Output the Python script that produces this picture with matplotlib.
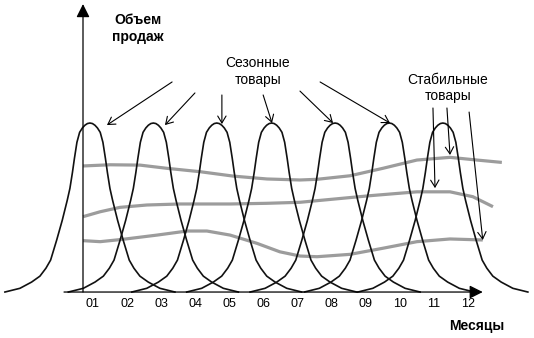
import numpy as np
import matplotlib
matplotlib.use("Agg")
import matplotlib.pyplot as plt

plt.rcParams['font.family'] = ['Liberation Sans', 'DejaVu Sans']

# months on the x axis, relative sales volume on the y axis
months = np.arange(1, 13)
month_labels = ["01", "02", "03", "04", "05", "06", "07", "08", "09", "10", "11", "12"]

# seasonal goods: peak positions (in months)
peak_pos = [0.91, 2.77, 4.63, 6.24, 8.10, 9.69, 11.26]

# shape of one seasonal bell (offset from centre, height)
bell_dx = [0, 0.073, 0.147, 0.220, 0.302, 0.381, 0.455, 0.513, 0.587, 0.666,
           0.812, 0.977, 1.153, 1.290, 1.466, 1.710, 2.053, 2.493]
bell_h = [1.0, 0.997, 0.987, 0.971, 0.945, 0.886, 0.790, 0.707, 0.613, 0.542,
          0.424, 0.306, 0.189, 0.141, 0.094, 0.059, 0.022, 0.0]

# stable goods: three flat-ish lines
stab1_x = [0.71, 1.50, 2.38, 3.17, 4.14, 5.11, 6.10, 7.07, 7.57, 8.54, 9.50, 10.50, 11.47, 12.26, 12.99]
stab1_y = [0.746, 0.753, 0.751, 0.732, 0.712, 0.686, 0.669, 0.663, 0.667, 0.688, 0.732, 0.781, 0.797, 0.781, 0.767]
stab2_x = [0.71, 1.21, 1.79, 2.58, 3.55, 5.02, 6.10, 7.07, 7.75, 9.12, 10.50, 11.47, 12.14, 12.73]
stab2_y = [0.446, 0.475, 0.501, 0.515, 0.521, 0.521, 0.525, 0.531, 0.544, 0.570, 0.593, 0.593, 0.564, 0.505]
stab3_x = [0.71, 1.21, 1.88, 2.88, 3.76, 4.34, 5.02, 5.81, 6.48, 7.07, 7.57, 8.54, 9.50, 10.50, 11.47, 12.43]
stab3_y = [0.304, 0.298, 0.312, 0.337, 0.361, 0.361, 0.337, 0.288, 0.238, 0.213, 0.209, 0.223, 0.259, 0.298, 0.314, 0.308]

# pointer arrows (tail -> head)
seas_tail_x = [3.32, 3.99, 4.78, 5.99, 7.07, 7.66]
seas_tail_y = [1.243, 1.178, 1.166, 1.166, 1.189, 1.243]
seas_head_x = [1.41, 3.11, 4.78, 6.25, 8.04, 9.71]
seas_head_y = [0.988, 0.988, 0.994, 1.0, 1.0, 1.0]
stab_tail_x = [10.97, 11.38, 12.03]
stab_tail_y = [1.089, 1.089, 1.065]
stab_head_x = [11.03, 11.47, 12.43]
stab_head_y = [0.615, 0.811, 0.308]

fig = plt.figure(figsize=(5.34, 3.38), dpi=100)
ax = fig.add_axes([0, 0, 1, 1])
ax.set_xlim(-1.727, 13.933)
ax.set_ylim(-0.272, 1.728)
ax.axis('off')

gray = '#9c9c9c'
for xs, ys in [(stab1_x, stab1_y), (stab2_x, stab2_y), (stab3_x, stab3_y)]:
    ax.plot(xs, ys, color=gray, lw=2.3, solid_capstyle='butt', solid_joinstyle='round', zorder=1)

dx = np.array(bell_dx)
h = np.array(bell_h)
full_dx = np.concatenate([-dx[::-1], dx[1:]])
full_h = np.concatenate([h[::-1], h[1:]])
for c in peak_pos:
    ax.plot(c + full_dx, full_h, color='#111111', lw=1.2, solid_joinstyle='round', zorder=2)

# axes with filled arrowheads
ax.annotate('', xy=(0.707, 1.704), xytext=(0.707, 0.0),
            arrowprops=dict(arrowstyle='-|>', lw=0.9, color='black', shrinkA=0, shrinkB=0,
                            mutation_scale=20), zorder=3)
ax.annotate('', xy=(12.43, 0.0), xytext=(0.15, 0.0),
            arrowprops=dict(arrowstyle='-|>', lw=0.9, color='black', shrinkA=0, shrinkB=0,
                            mutation_scale=20), zorder=3)

for m, lab in zip(months, month_labels):
    ax.text(m, -0.071, lab, ha='center', va='center', fontsize=9)

thin = dict(arrowstyle='->,head_length=0.5,head_width=0.3', lw=0.8, color='black',
            shrinkA=0, shrinkB=0, mutation_scale=10)
for tx, ty, hx, hy in zip(seas_tail_x, seas_tail_y, seas_head_x, seas_head_y):
    ax.annotate('', xy=(hx, hy), xytext=(tx, ty), arrowprops=thin, zorder=4)
for tx, ty, hx, hy in zip(stab_tail_x, stab_tail_y, stab_head_x, stab_head_y):
    ax.annotate('', xy=(hx, hy), xytext=(tx, ty), arrowprops=thin, zorder=4)

ax.text(2.32, 1.559, "Объем\nпродаж", ha='center', va='center', fontsize=10,
        fontweight='bold', linespacing=1.2)
ax.text(5.84, 1.305, "Сезонные\nтовары", ha='center', va='center', fontsize=10,
        linespacing=1.2)
ax.text(11.41, 1.207, "Стабильные\nтовары", ha='center', va='center', fontsize=10,
        linespacing=1.15)
ax.text(12.26, -0.201, "Месяцы", ha='center', va='center', fontsize=10, fontweight='bold')

fig.savefig("out.png", dpi=100)
